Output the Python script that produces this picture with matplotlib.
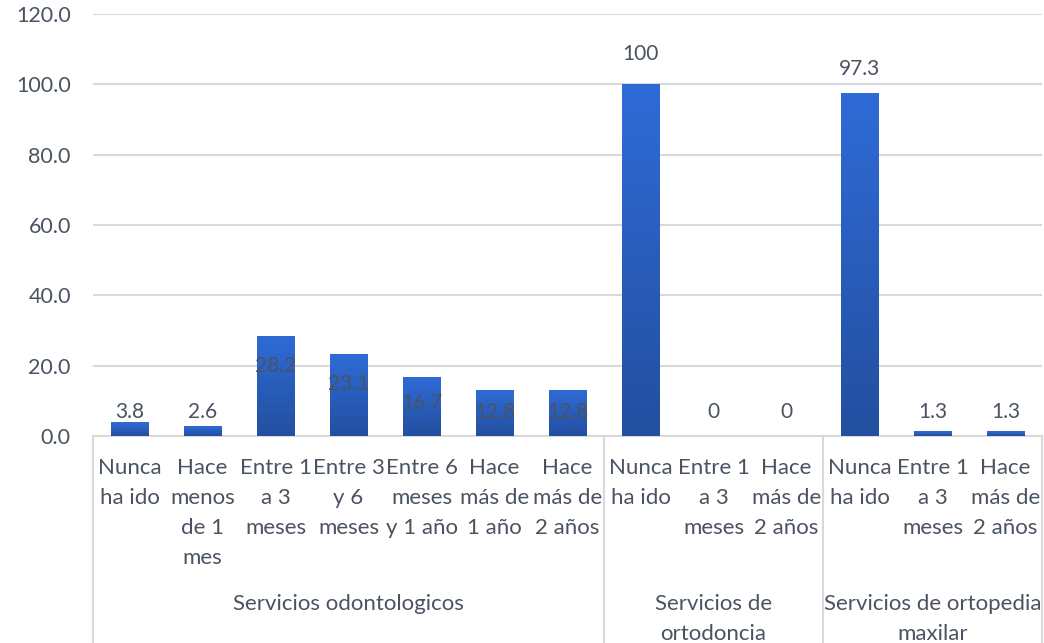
import matplotlib.pyplot as plt
import numpy as np
from matplotlib.colors import LinearSegmentedColormap

# category labels (already wrapped the way the chart shows them)
categories = [
    "Nunca\nha ido", "Hace\nmenos\nde 1\nmes", "Entre 1\na 3\nmeses",
    "Entre 3\ny 6\nmeses", "Entre 6\nmeses\ny 1 año", "Hace\nmás de\n1 año",
    "Hace\nmás de\n2 años",
    "Nunca\nha ido", "Entre 1\na 3\nmeses", "Hace\nmás de\n2 años",
    "Nunca\nha ido", "Entre 1\na 3\nmeses", "Hace\nmás de\n2 años",
]
values = [3.8, 2.6, 28.2, 23.1, 16.7, 12.8, 12.8, 100, 0, 0, 97.3, 1.3, 1.3]
value_labels = ["3.8", "2.6", "28.2", "23.1", "16.7", "12.8", "12.8",
                "100", "0", "0", "97.3", "1.3", "1.3"]
# where the data labels sit
label_heights = [6.8, 6.8, 19.9, 14.8, 9.4, 6.8, 6.8,
                 108.6, 6.8, 6.8, 104.3, 6.8, 6.8]
groups = ["Servicios odontologicos", "Servicios de\nortodoncia",
          "Servicios de ortopedia\nmaxilar"]
group_sizes = [7, 3, 3]

plt.rcParams['font.family'] = ['Lato', 'DejaVu Sans']
txt_col = '#4a5361'
grid_col = '#d9d9d9'

fig = plt.figure(figsize=(10.44, 6.43), dpi=100)
ax = fig.add_axes([93 / 1044, 1 - 436 / 643, 949 / 1044, 422 / 643])

cmap = LinearSegmentedColormap.from_list('bar', ['#234f9f', '#2f6bd7'])
grad = np.linspace(0, 1, 256).reshape(-1, 1)
w = 0.52
for i, v in enumerate(values):
    if v > 0:
        ax.imshow(grad, cmap=cmap, origin='lower', aspect='auto',
                  extent=(i - w / 2, i + w / 2, 0, v), zorder=3)
    ax.text(i, label_heights[i], value_labels[i], ha='center', va='center',
            fontsize=15, color=txt_col, zorder=4)

ax.set_xlim(-0.5, len(values) - 0.5)
ax.set_ylim(0, 120)
ax.set_yticks(np.arange(0, 121, 20))
ax.set_yticklabels(["%.1f" % t for t in np.arange(0, 121, 20)])
ax.yaxis.grid(True, color=grid_col, linewidth=1.5, zorder=0)
ax.set_axisbelow(True)
ax.tick_params(axis='y', length=0, pad=16, labelsize=15.5, labelcolor=txt_col)
ax.set_xticks([])
for s in ['top', 'right', 'left']:
    ax.spines[s].set_visible(False)
ax.spines['bottom'].set_color(grid_col)
ax.spines['bottom'].set_linewidth(1.5)

# first level category labels
for i, c in enumerate(categories):
    ax.annotate(c, xy=(i, 0), xycoords=('data', 'axes fraction'),
                xytext=(0, -22), textcoords='offset pixels',
                ha='center', va='top', fontsize=16, color=txt_col,
                linespacing=1.62, annotation_clip=False)

# group labels and separators
start = 0
seps = [-0.5]
for g, n in zip(groups, group_sizes):
    center = start + (n - 1) / 2
    ax.annotate(g, xy=(center, 0), xycoords=('data', 'axes fraction'),
                xytext=(0, -158), textcoords='offset pixels',
                ha='center', va='top', fontsize=16, color=txt_col,
                linespacing=1.62, annotation_clip=False)
    start += n
    seps.append(start - 0.5)

for x in seps:
    ax.plot([x, x], [0, -0.6], transform=ax.get_xaxis_transform(),
            color=grid_col, linewidth=1.5, clip_on=False)

fig.savefig('out.png', dpi=100)
